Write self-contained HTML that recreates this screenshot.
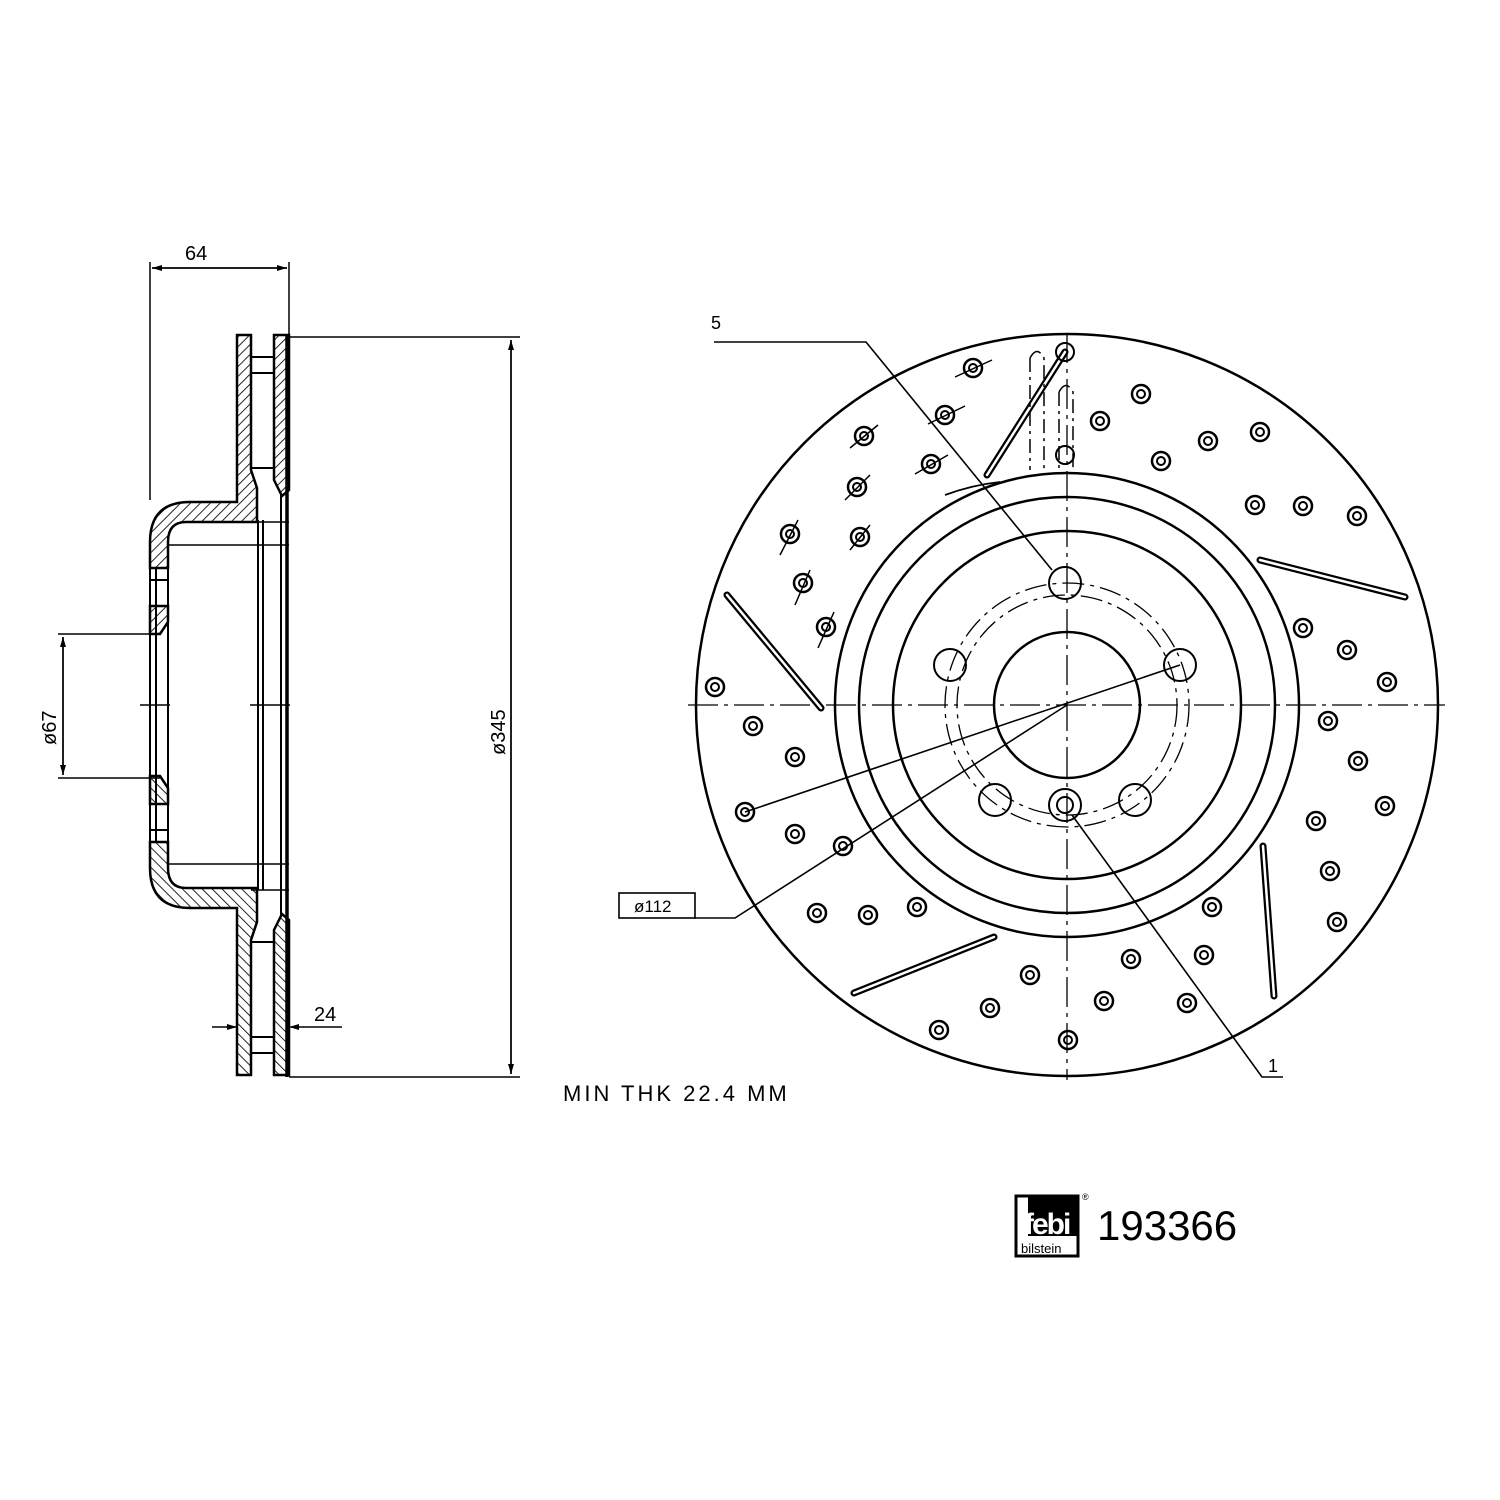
<!DOCTYPE html>
<html><head><meta charset="utf-8"><style>
html,body{margin:0;padding:0;background:#fff}
svg{display:block}
text{font-family:"Liberation Sans",sans-serif;fill:#000}
</style></head><body>
<svg width="1500" height="1500" viewBox="0 0 1500 1500" xmlns="http://www.w3.org/2000/svg">
<defs>
<pattern id="h" patternUnits="userSpaceOnUse" width="7" height="7" patternTransform="rotate(45)">
<rect width="7" height="7" fill="#fff"/><line x1="0" y1="0" x2="0" y2="7" stroke="#000" stroke-width="1.7"/>
</pattern>
<marker id="a" markerWidth="10" markerHeight="6" refX="10" refY="3" orient="auto" markerUnits="userSpaceOnUse"><path d="M0,0 L10,3 L0,6 Z" fill="#000"/></marker>
<g id="half" stroke="#000" stroke-width="2.5" fill="url(#h)">
<path d="M237,335 H251 V470 L257,488 V522 H186 Q168,522 168,542 V568 H150 V542 Q150,502 190,502 H237 Z"/>
<path d="M150,606 H168 V622 L160,634 H150 Z"/>
<path d="M274,335 H289 V490 L282,496 L274,480 Z"/>
<g fill="none" stroke-width="2">
<line x1="251" y1="357" x2="274" y2="357"/><line x1="251" y1="373" x2="274" y2="373"/>
<line x1="251" y1="468" x2="274" y2="468"/>
<line x1="150" y1="568" x2="150" y2="705"/><line x1="156" y1="568" x2="156" y2="705"/>
<line x1="168" y1="568" x2="168" y2="705"/><line x1="150" y1="580" x2="168" y2="580"/>
</g>
</g>
<g id="hole"><circle r="9" fill="none" stroke="#000" stroke-width="2.5"/><circle r="4" fill="none" stroke="#000" stroke-width="2"/></g>
</defs>

<use href="#half"/>
<use href="#half" transform="translate(0,1410) scale(1,-1)"/>
<g stroke="#000" fill="none">
<line x1="258" y1="520" x2="258" y2="890" stroke-width="2"/>
<line x1="263" y1="520" x2="263" y2="890" stroke-width="2"/>
<line x1="281" y1="495" x2="281" y2="915" stroke-width="2"/>
<line x1="287" y1="335" x2="287" y2="1077" stroke-width="3.5"/>
<line x1="168" y1="545" x2="289" y2="545" stroke-width="1.5"/>
<line x1="168" y1="864" x2="289" y2="864" stroke-width="1.5"/>
<line x1="251" y1="522" x2="289" y2="522" stroke-width="1.5"/>
<line x1="251" y1="890" x2="289" y2="890" stroke-width="1.5"/>
<line x1="140" y1="705" x2="170" y2="705" stroke-width="1.5"/>
<line x1="250" y1="705" x2="290" y2="705" stroke-width="1.5"/>
<line x1="150" y1="262" x2="150" y2="500" stroke-width="1.5"/>
<line x1="289" y1="262" x2="289" y2="335" stroke-width="1.5"/>
<line x1="152" y1="268" x2="287" y2="268" stroke-width="1.5" marker-end="url(#a)"/>
<line x1="287" y1="268" x2="152" y2="268" stroke-width="1.5" marker-end="url(#a)"/>
<line x1="289" y1="337" x2="520" y2="337" stroke-width="1.5"/>
<line x1="289" y1="1077" x2="520" y2="1077" stroke-width="1.5"/>
<line x1="511" y1="340" x2="511" y2="1074" stroke-width="1.5" marker-end="url(#a)"/>
<line x1="511" y1="1074" x2="511" y2="340" stroke-width="1.5" marker-end="url(#a)"/>
<line x1="58" y1="634" x2="160" y2="634" stroke-width="1.5"/>
<line x1="58" y1="778" x2="160" y2="778" stroke-width="1.5"/>
<line x1="63" y1="637" x2="63" y2="775" stroke-width="1.5" marker-end="url(#a)"/>
<line x1="63" y1="775" x2="63" y2="637" stroke-width="1.5" marker-end="url(#a)"/>
<line x1="212" y1="1027" x2="237" y2="1027" stroke-width="1.5" marker-end="url(#a)"/>
<line x1="342" y1="1027" x2="289" y2="1027" stroke-width="1.5" marker-end="url(#a)"/>
</g>
<text x="185" y="260" font-size="20">64</text>
<text x="314" y="1021" font-size="20">24</text>
<text transform="translate(505,755) rotate(-90)" font-size="20">ø345</text>
<text transform="translate(56,745) rotate(-90)" font-size="20">ø67</text>
<text x="563" y="1101" font-size="22" letter-spacing="3" font-family="Liberation Mono,monospace">MIN THK 22.4 MM</text>

<g stroke="#000" fill="none" stroke-width="2.5">
<circle cx="1067" cy="705" r="371"/>
<circle cx="1067" cy="705" r="232"/>
<circle cx="1067" cy="705" r="208"/>
<circle cx="1067" cy="705" r="174"/>
<circle cx="1067" cy="705" r="73"/>
<circle cx="1067" cy="705" r="110" stroke-width="1.3" stroke-dasharray="22 6 4 6"/>
<circle cx="1067" cy="705" r="122" stroke-width="1.3" stroke-dasharray="22 6 4 6"/>
<path d="M945,495 A227,227 0 0 1 1000,482" stroke-width="1.8"/>
<line x1="688" y1="705" x2="1445" y2="705" stroke-width="1.3" stroke-dasharray="30 6 4 6"/>
<line x1="1067" y1="333" x2="1067" y2="1080" stroke-width="1.3" stroke-dasharray="30 6 4 6"/>
<g stroke-width="2">
<circle cx="1065" cy="583" r="16"/><circle cx="950" cy="665" r="16"/><circle cx="1180" cy="665" r="16"/>
<circle cx="995" cy="800" r="16"/><circle cx="1135" cy="800" r="16"/>
<circle cx="1065" cy="805" r="16"/><circle cx="1065" cy="805" r="8"/>
</g>
<g stroke-width="7" stroke-linecap="round">
<line x1="987" y1="475" x2="1065" y2="352"/>
<line x1="727" y1="595" x2="821" y2="708"/>
<line x1="1260" y1="560" x2="1405" y2="597"/>
<line x1="1263" y1="846" x2="1274" y2="996"/>
<line x1="854" y1="993" x2="994" y2="937"/>
</g>
<g stroke="#fff" stroke-width="2.5" stroke-linecap="round">
<line x1="987" y1="475" x2="1065" y2="352"/>
<line x1="727" y1="595" x2="821" y2="708"/>
<line x1="1260" y1="560" x2="1405" y2="597"/>
<line x1="1263" y1="846" x2="1274" y2="996"/>
<line x1="854" y1="993" x2="994" y2="937"/>
</g>
<g stroke-width="1.5" stroke-dasharray="14 5 3 5">
<path d="M1030,358 Q1037,345 1044,358 V470 M1030,358 V470"/>
<path d="M1059,392 Q1066,379 1073,392 V470 M1059,392 V470"/>
</g>
<circle cx="1065" cy="455" r="9" stroke-width="2"/>
<circle cx="1065" cy="352" r="9" stroke-width="2"/>
<g stroke-width="1.6">
<polyline points="714,342 866,342 1052,570"/>
<polyline points="1283,1077 1262,1077 1072,815"/>
<rect x="619" y="893" width="76" height="25"/>
<polyline points="695,918 735,918 1067,705"/>
<line x1="745" y1="812" x2="1180" y2="665"/>
</g>
</g>
<g>
<use href="#hole" x="973" y="368"/><use href="#hole" x="945" y="415"/><use href="#hole" x="864" y="436"/><use href="#hole" x="931" y="464"/><use href="#hole" x="857" y="487"/><use href="#hole" x="790" y="534"/><use href="#hole" x="860" y="537"/><use href="#hole" x="803" y="583"/><use href="#hole" x="826" y="627"/>
<use href="#hole" x="715" y="687"/><use href="#hole" x="753" y="726"/><use href="#hole" x="795" y="757"/><use href="#hole" x="745" y="812"/><use href="#hole" x="795" y="834"/><use href="#hole" x="843" y="846"/>
<use href="#hole" x="817" y="913"/><use href="#hole" x="868" y="915"/><use href="#hole" x="917" y="907"/><use href="#hole" x="1030" y="975"/><use href="#hole" x="990" y="1008"/><use href="#hole" x="939" y="1030"/><use href="#hole" x="1068" y="1040"/><use href="#hole" x="1104" y="1001"/><use href="#hole" x="1131" y="959"/><use href="#hole" x="1187" y="1003"/><use href="#hole" x="1204" y="955"/><use href="#hole" x="1212" y="907"/>
<use href="#hole" x="1100" y="421"/><use href="#hole" x="1141" y="394"/><use href="#hole" x="1161" y="461"/><use href="#hole" x="1208" y="441"/><use href="#hole" x="1260" y="432"/><use href="#hole" x="1255" y="505"/><use href="#hole" x="1303" y="506"/><use href="#hole" x="1357" y="516"/><use href="#hole" x="1303" y="628"/><use href="#hole" x="1347" y="650"/><use href="#hole" x="1387" y="682"/><use href="#hole" x="1328" y="721"/><use href="#hole" x="1358" y="761"/><use href="#hole" x="1385" y="806"/><use href="#hole" x="1316" y="821"/><use href="#hole" x="1330" y="871"/><use href="#hole" x="1337" y="922"/>
</g>
<g stroke="#000" stroke-width="1.5">
<line x1="955" y1="377" x2="992" y2="360"/><line x1="928" y1="424" x2="965" y2="406"/><line x1="850" y1="448" x2="878" y2="425"/><line x1="915" y1="474" x2="948" y2="455"/><line x1="845" y1="500" x2="870" y2="475"/><line x1="780" y1="555" x2="798" y2="520"/><line x1="850" y1="550" x2="870" y2="525"/><line x1="795" y1="605" x2="810" y2="570"/><line x1="818" y1="648" x2="834" y2="612"/>
</g>
<text x="711" y="329" font-size="18">5</text>
<text x="1268" y="1072" font-size="18">1</text>
<text x="634" y="912" font-size="17">ø112</text>

<rect x="1016" y="1196" width="62" height="60" fill="#fff" stroke="#000" stroke-width="3"/>
<rect x="1028" y="1196" width="50" height="40" fill="#000"/>
<text x="1024" y="1234" font-size="30" font-weight="bold" style="fill:#fff" letter-spacing="-2">febi</text>
<text x="1021" y="1253" font-size="13">bilstein</text>
<text x="1082" y="1200" font-size="9">®</text>
<text x="1097" y="1240" font-size="42">193366</text>
</svg>
</body></html>
